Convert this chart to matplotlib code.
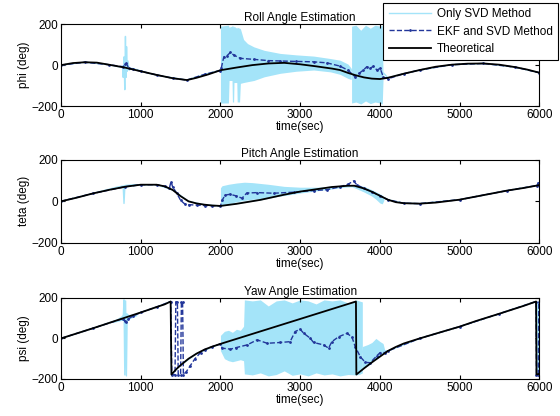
import matplotlib
matplotlib.use('Agg')
import matplotlib.pyplot as plt

plt.rcParams['font.family'] = ['Liberation Sans', 'DejaVu Sans']
plt.rcParams['font.size'] = 8.5

# ---------------- Roll ----------------
roll_th_t = [0, 150, 300, 450, 600, 800, 1000, 1200, 1400, 1580, 1700, 1850, 2000, 2200, 2400,
             2600, 2800, 3000, 3200, 3400, 3500, 3600, 3700, 3800, 3900, 4000, 4100, 4300, 4500,
             4700, 4900, 5100, 5300, 5500, 5700, 5850, 6000]
roll_th_v = [0, 10, 14, 12, 2, -12, -30, -48, -64, -73, -62, -45, -25, -12, 0,
             8, 11, 4, -6, -17, -24, -38, -50, -60, -66, -68, -62, -42, -24,
             -8, 2, 7, 8, 2, -10, -22, -37]

roll_svd_t = [0, 300, 600, 700, 750, 770, 780, 790, 800, 808, 815, 822, 830, 840, 855, 880, 950,
              1100, 1300, 1580, 1800, 2000, 2100, 2400, 2800, 3200, 3500, 3700, 3900, 4050,
              4100, 4300, 4500, 4900, 5300, 5700, 6000]
roll_svd_v = [0, 14, 2, -6, -10, -4, -60, 40, -120, 140, -60, 90, -30, 20, -25, -15, -22,
              -40, -56, -73, -45, -25, 30, 25, 18, 12, -10, -30, -15, -40,
              -62, -42, -24, 2, 8, -10, -37]

roll_bandA_t = [2000, 2100, 2108, 2145, 2150, 2165, 2170, 2205, 2210, 2240, 2250, 2290, 2340,
                2420, 2550, 2750, 2950, 3170, 3380, 3500, 3600, 3640]
roll_bandA_hi = [190, 195, 185, 190, 195, 185, 190, 180, 185, 180, 178, 125, 105,
                 89, 72, 57, 50, 44, 32, 24, 5, -15]
roll_bandA_lo = [-185, -185, -75, -75, -180, -180, -85, -85, -180, -180, -89, -85, -81,
                 -75, -57, -40, -30, -24, -33, -45, -65, -70]

roll_bandB_t = [3645, 3700, 3760, 3820, 3880, 3940, 4000, 4030, 4040]
roll_bandB_hi = [190, 195, 170, 195, 180, 195, 190, 195, -60]
roll_bandB_lo = [-185, -180, -190, -175, -188, -180, -185, -190, -70]

roll_ekf_t = [0, 300, 600, 780, 800, 820, 850, 900, 1000, 1200, 1400, 1580, 1800, 1990,
              2010, 2042, 2080, 2125, 2167, 2250, 2418, 2600, 2750, 2950, 3168, 3335, 3500,
              3600, 3690, 3740, 3794, 3836, 3878, 3920, 3962, 4004, 4045, 4108, 4300, 4500,
              4900, 5300, 5700, 6000]
roll_ekf_v = [0, 14, 2, -8, 5, 8, -15, -20, -30, -48, -64, -73, -45, -27,
              -15, 40, 45, 62, 49, 33, 28, 22, 20, 18, 16, 11, -5,
              -25, -57, -40, -24, -8, -16, -5, -24, -16, -60, -66, -42, -24,
              2, 8, -10, -37]

# ---------------- Pitch ----------------
pitch_th_t = [0, 200, 400, 600, 800, 1000, 1200, 1300, 1400, 1500, 1600, 1700, 1800, 1900,
              2000, 2200, 2500, 2800, 3000, 3200, 3400, 3600, 3680, 3800, 3900, 4000, 4100,
              4200, 4300, 4500, 4700, 5000, 5300, 5600, 5800, 6000]
pitch_th_v = [0, 18, 38, 55, 70, 80, 80, 72, 55, 25, 0, -10, -16, -20,
              -22, -12, 7, 32, 47, 58, 69, 75, 75, 62, 46, 27, 8,
              -4, -9, -11, -6, 8, 30, 52, 64, 78]

pitch_svd_t = [0, 400, 700, 760, 780, 790, 800, 820, 900, 1000, 1200, 1400, 1600, 1800, 2000,
               2500, 3000, 3400, 3680, 3800, 4000, 4100, 4300, 4500, 5000, 5600, 5970, 5985, 6000]
pitch_svd_v = [0, 38, 68, 72, 70, -10, 65, 72, 78, 80, 80, 55, 0, -17, -22,
               7, 47, 69, 75, 62, 27, 8, -9, -11, 8, 52, 76, 88, 78]

pitch_bandA_t = [700, 800, 900, 1000, 1100]
pitch_bandA_hi = [72, 82, 85, 85, 82]
pitch_bandA_lo = [63, 68, 74, 78, 80]

pitch_bandB_t = [2000, 2020, 2100, 2200, 2300, 2400, 2500, 2600, 2800, 3000, 3200, 3400, 3550,
                 3650, 3700, 3800, 3900, 3950, 4000, 4030, 4050]
pitch_bandB_hi = [65, 75, 82, 88, 92, 90, 86, 82, 72, 68, 68, 70, 76, 82, 80, 72, 56, 46, 36, 30, 15]
pitch_bandB_lo = [-25, -20, -12, -2, 5, 10, 12, 18, 28, 40, 50, 60, 68, 70, 62, 45, 25, 10, -8, -12, 5]

pitch_ekf_t = [0, 400, 800, 1000, 1200, 1300, 1360, 1380, 1400, 1450, 1500, 1550, 1600, 1700,
               1800, 1900, 2000, 2020, 2060, 2120, 2200, 2270, 2330, 2460, 2670, 2920, 3170,
               3340, 3500, 3600, 3670, 3710, 3800, 3900, 4000, 4100, 4300, 4500, 5000, 5600,
               5970, 5990, 6000]
pitch_ekf_v = [0, 38, 70, 80, 80, 72, 65, 95, 70, 40, 5, -12, -16, -18,
               -20, -21, -22, 5, 30, 34, 26, 15, 40, 42, 39, 44, 52,
               56, 70, 82, 98, 80, 62, 46, 27, 8, -9, -11, 8, 52,
               76, 90, 80]

# ---------------- Yaw ----------------
yaw_th_t = [0, 400, 800, 1000, 1200, 1300, 1375, 1385, 1450, 1500, 1600, 1700, 1800, 1900,
            2000, 3700, 3705, 3800, 3900, 4000, 4100, 4200, 4300, 4500, 4800, 5000, 5200,
            5500, 5800, 5960, 5965, 6000]
yaw_th_v = [0, 50, 102, 128, 155, 168, 182, -178, -150, -132, -100, -75, -55, -40,
            -27, 182, -178, -148, -118, -90, -62, -42, -25, 0, 35, 58, 85,
            122, 160, 182, -178, -175]

yaw_svd_t = [0, 400, 700, 780, 790, 800, 810, 820, 830, 840, 900, 1000, 1200, 1375, 1385,
             1500, 1700, 2000, 2500, 3000, 3500, 3700, 3800, 4000, 4100, 4500, 5000, 5500,
             5960, 5975, 5985, 5992, 6000]
yaw_svd_v = [0, 50, 90, 98, 190, -180, 185, -185, 120, 100, 110, 128, 155, 182, -178,
             -132, -75, -27, -20, 0, 10, 0, -80, -60, -62, 0, 58, 122,
             182, -178, 180, -180, -175]

yaw_bandA_t = [650, 750, 800, 850, 950]
yaw_bandA_hi = [85, 110, 130, 118, 122]
yaw_bandA_lo = [78, 88, 90, 95, 112]

yaw_bandB_t = [2000, 2050, 2100, 2150, 2200, 2250, 2290, 2300, 2400, 2500, 2600, 2700, 2800,
               2900, 3000, 3100, 3200, 3300, 3400, 3500, 3600, 3700, 3740, 3780]
yaw_bandB_hi = [15, 35, 40, 30, 45, 40, 60, 190, 185, 190, 160, 185, 190,
                175, 190, 185, 170, 190, 185, 190, 175, 190, 185, 180]
yaw_bandB_lo = [-60, -100, -110, -115, -110, -105, -110, -175, -180, -170, -185, -178, -160,
                -182, -175, -185, -170, -180, -175, -185, -178, -180, -178, -170]

yaw_bandC_t = [3780, 3850, 3900, 3950, 4000, 4040, 4060]
yaw_bandC_hi = [-40, -30, -20, 0, -15, -25, -55]
yaw_bandC_lo = [-150, -135, -118, -104, -90, -75, -60]

yaw_ekf_t = [0, 400, 780, 800, 820, 840, 900, 1000, 1200, 1375, 1390, 1430, 1440, 1460, 1470,
             1500, 1510, 1525, 1535, 1570, 1620, 1680, 1750, 1800, 1900, 2000, 2021, 2126,
             2200, 2335, 2460, 2586, 2753, 2874, 2937, 3000, 3046, 3126, 3168, 3293, 3356,
             3398, 3482, 3586, 3649, 3691, 3754, 3816, 3879, 3963, 4004, 4060, 4100, 4500,
             5000, 5500, 5960, 5965, 5988, 5994]
yaw_ekf_v = [0, 50, 98, 85, 80, 95, 110, 128, 155, 182, -178, -178, 180, 180, -178,
             -178, 180, 180, -178, -165, -135, -100, -70, -55, -40, -27, -48, -53,
             -45, -32, -7, -24, -20, -16, 34, 45, 25, 1, -20, -32, -48,
             -16, 8, 25, 8, -41, -90, -118, -120, -85, -70, -70, -62, 0,
             58, 122, 182, -178, -178, 178]

svd_col = '#a4e4f9'
ekf_col = '#22369a'
th_col = 'black'

fig = plt.figure(figsize=(5.6, 4.16), dpi=100)
positions = [[0.109, 0.745, 0.854, 0.197],
             [0.109, 0.416, 0.854, 0.200],
             [0.109, 0.089, 0.854, 0.195]]

panels = [
    ('Roll Angle Estimation', 'phi (deg)', roll_th_t, roll_th_v, roll_svd_t, roll_svd_v,
     [(roll_bandA_t, roll_bandA_lo, roll_bandA_hi), (roll_bandB_t, roll_bandB_lo, roll_bandB_hi)],
     roll_ekf_t, roll_ekf_v),
    ('Pitch Angle Estimation', 'teta (deg)', pitch_th_t, pitch_th_v, pitch_svd_t, pitch_svd_v,
     [(pitch_bandA_t, pitch_bandA_lo, pitch_bandA_hi), (pitch_bandB_t, pitch_bandB_lo, pitch_bandB_hi)],
     pitch_ekf_t, pitch_ekf_v),
    ('Yaw Angle Estimation', 'psi (deg)', yaw_th_t, yaw_th_v, yaw_svd_t, yaw_svd_v,
     [(yaw_bandA_t, yaw_bandA_lo, yaw_bandA_hi), (yaw_bandB_t, yaw_bandB_lo, yaw_bandB_hi),
      (yaw_bandC_t, yaw_bandC_lo, yaw_bandC_hi)],
     yaw_ekf_t, yaw_ekf_v),
]

handles = None
for pos, (title, ylab, tt, tv, st, sv, bands, et, ev) in zip(positions, panels):
    ax = fig.add_axes(pos)
    l1, = ax.plot(st, sv, color=svd_col, lw=1, label='Only SVD Method')
    for bt, blo, bhi in bands:
        ax.fill_between(bt, blo, bhi, color=svd_col, lw=0)
    l2, = ax.plot(et, ev, color=ekf_col, lw=1, ls='--', marker='.', ms=2,
                  label='EKF and SVD Method')
    l3, = ax.plot(tt, tv, color=th_col, lw=1.3, label='Theoretical')
    if handles is None:
        handles = [l1, l2, l3]
    ax.set_xlim(0, 6000)
    ax.set_ylim(-200, 200)
    ax.set_xticks([0, 1000, 2000, 3000, 4000, 5000, 6000])
    ax.set_yticks([-200, 0, 200])
    ax.tick_params(direction='in', top=True, right=True, length=3, labelsize=8.5, pad=2)
    ax.set_title(title, fontsize=8.5, pad=2)
    ax.set_xlabel('time(sec)', fontsize=8.5, labelpad=0)
    ax.set_ylabel(ylab, fontsize=8.5, labelpad=1)

leg = fig.legend(handles, [h.get_label() for h in handles], loc='upper right',
                 bbox_to_anchor=(0.997, 0.993), fontsize=8.5, fancybox=False,
                 edgecolor='black', framealpha=1, handlelength=3.6, borderpad=0.45,
                 labelspacing=0.45, handletextpad=0.5, borderaxespad=0)
leg.get_frame().set_linewidth(0.8)

fig.savefig('out.png', dpi=100)
